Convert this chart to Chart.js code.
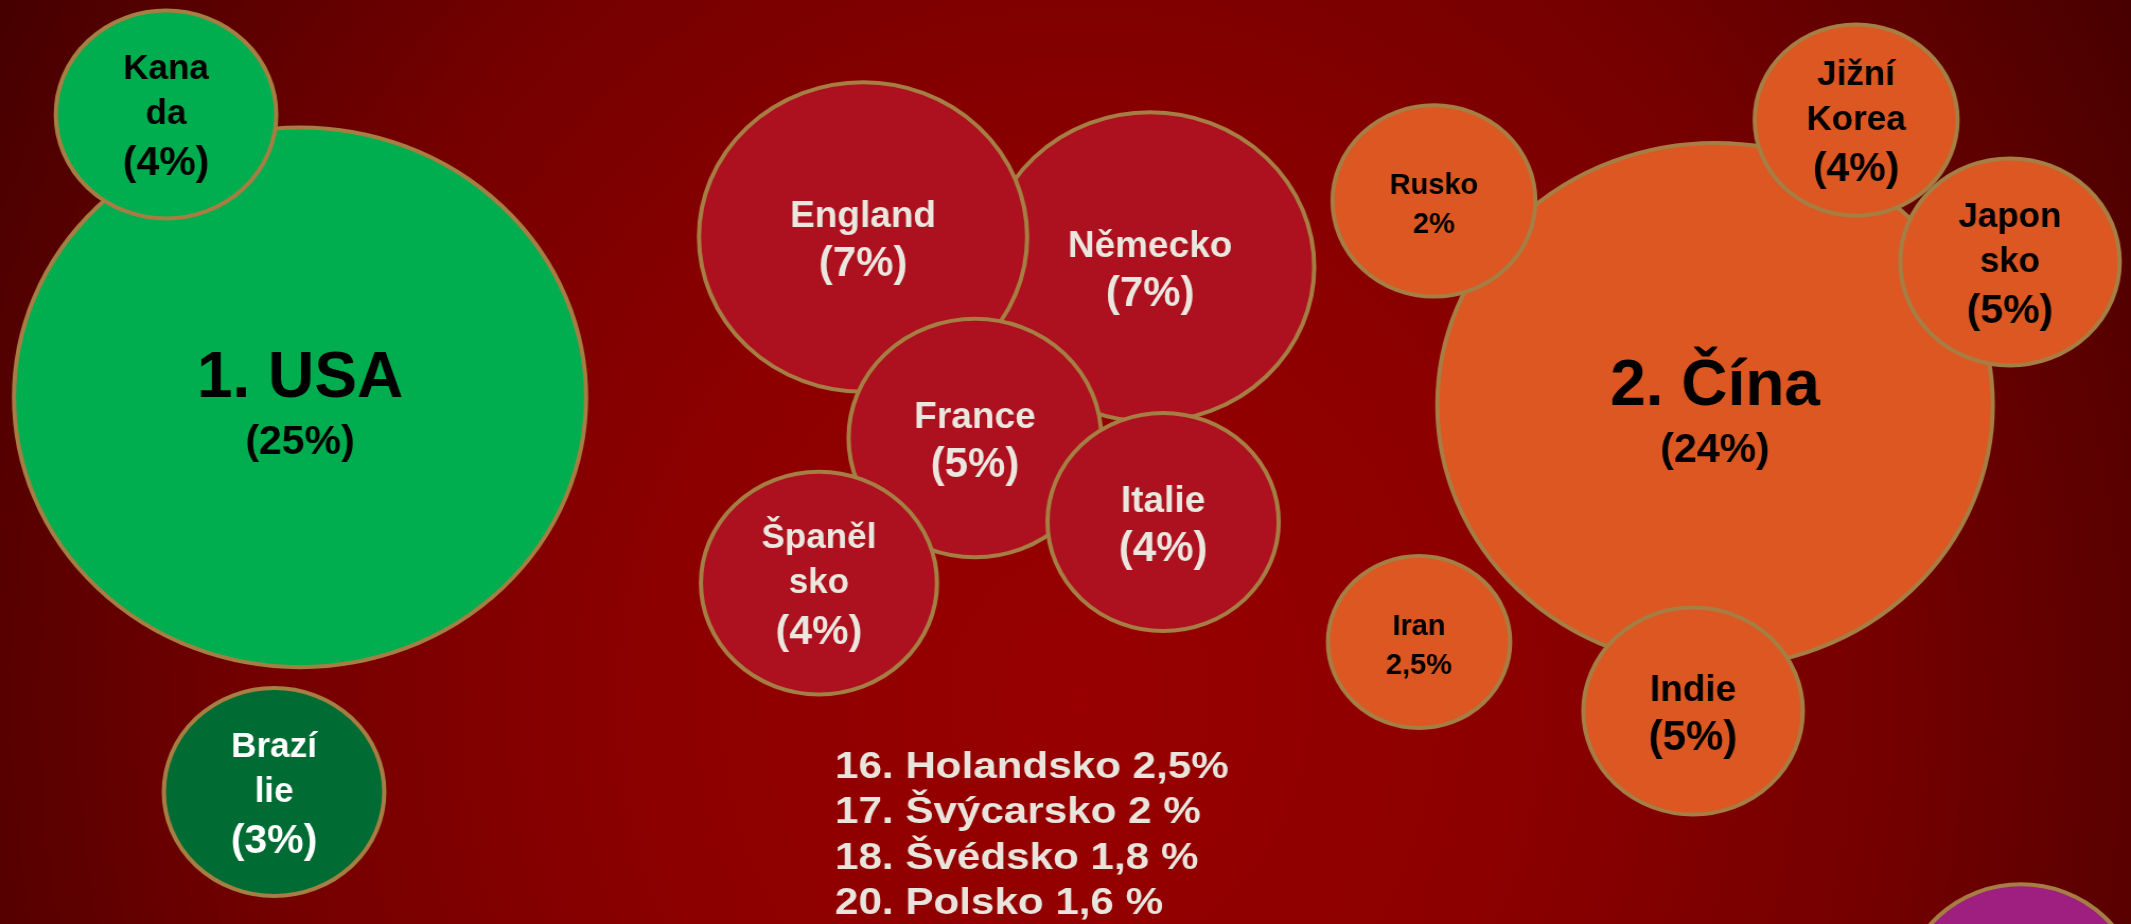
<!DOCTYPE html>
<html lang="cs">
<head>
<meta charset="utf-8">
<title>Podíl zemí</title>
<script src="https://cdn.jsdelivr.net/npm/chart.js"></script>
<style>
  html, body { margin: 0; padding: 0; }
  body {
    width: 2131px;
    height: 924px;
    overflow: hidden;
    background: radial-gradient(ellipse 1250px 1400px at 1080px 700px, #980000 0%, #8c0000 35%, #740000 65%, #450000 100%);
  }
  canvas { display: block; }
</style>
</head>
<body>
<canvas id="chart" width="2010" height="924" style="width:2131px;height:924px"></canvas>
<script>
// the slide is a little stretched sideways, so the circles come out as ellipses
const STRETCH = 2131 / 2010;

// bubbles, in drawing order (later ones sit on top)
const countries = ['1. USA', 'Kana\nda', 'Brazí\nlie', 'Německo', 'England', 'France', 'Italie', 'Španěl\nsko',
                   '2. Čína', 'Rusko', 'Jižní\nKorea', 'Japon\nsko', 'Iran', 'Indie', ''];
const shares = [25, 4, 3, 7, 7, 5, 4, 4, 24, 2, 4, 5, 2.5, 5, null];
const shareLabels = ['(25%)', '(4%)', '(3%)', '(7%)', '(7%)', '(5%)', '(4%)', '(4%)',
                     '(24%)', '2%', '(4%)', '(5%)', '2,5%', '(5%)', ''];
const regions = ['am', 'am', 'br', 'eu', 'eu', 'eu', 'eu', 'eu', 'as', 'as', 'as', 'as', 'as', 'as', 'other'];

// centre and radius of each bubble, in % of slide width (x) and height (y, r)
const posX = [14.08, 7.79, 12.86, 53.97, 40.50, 45.75, 54.58, 38.43, 80.48, 67.29, 87.10, 94.32, 66.59, 79.45, 94.84];
const posY = [43.0, 12.39, 85.71, 28.9, 25.65, 47.40, 56.49, 63.10, 43.83, 21.75, 12.99, 28.35, 69.48, 76.95, 107.7];
const bubbleR = [29.2, 11.25, 11.25, 16.75, 16.75, 12.9, 11.8, 12.05, 28.35, 10.35, 10.35, 11.2, 9.3, 11.2, 12.0];

// the short list under the bubbles
const listRanks = ['16.', '17.', '18.', '20.'];
const listNames = ['Holandsko', 'Švýcarsko', 'Švédsko', 'Polsko'];
const listShares = ['2,5%', '2 %', '1,8 %', '1,6 %'];

const fillColor = { am: '#00ae50', br: '#006b33', eu: '#ad101e', as: '#dd5722', other: '#9e1f7f' };
const textColor = { am: '#000000', br: '#ffffff', eu: '#ebe7df', as: '#000000', other: '#ffffff' };
const FONT = '"Liberation Sans", Arial, sans-serif';

const bubbleLabels = {
  id: 'bubbleLabels',
  afterDatasetsDraw(chart) {
    const ctx = chart.ctx;
    const meta = chart.getDatasetMeta(0);
    meta.data.forEach((pt, i) => {
      if (!countries[i]) return;
      const lines = countries[i].split('\n');
      const pct = shareLabels[i];
      let rows;
      if (/^\d\./.test(countries[i])) {
        rows = [[lines[0], 64, 0], [pct, 41, 57]];
      } else if (pct.indexOf('(') < 0) {
        rows = [[lines[0], 29, -7], [pct, 29, 32]];
      } else if (lines.length === 2) {
        rows = [[lines[0], 35, -35], [lines[1], 35, 10], [pct, 41, 61]];
      } else {
        rows = [[lines[0], 37, -10], [pct, 42, 39]];
      }
      ctx.save();
      ctx.translate(pt.x, pt.y);
      ctx.scale(1 / STRETCH, 1);
      ctx.fillStyle = textColor[regions[i]];
      ctx.textAlign = 'center';
      ctx.textBaseline = 'alphabetic';
      rows.forEach(([t, size, dy]) => {
        ctx.font = `bold ${size}px ${FONT}`;
        ctx.fillText(t, 0, dy);
      });
      ctx.restore();
    });

    // list text
    const xs = chart.scales.x, ys = chart.scales.y;
    ctx.save();
    ctx.fillStyle = '#e9e5dd';
    ctx.font = `bold 37px ${FONT}`;
    ctx.textAlign = 'left';
    listNames.forEach((name, i) => {
      const x = xs.getPixelForValue(39.18);
      const y = ys.getPixelForValue(84.2 + i * 4.9);
      ctx.save();
      ctx.translate(x, y);
      ctx.scale(1.14 / STRETCH, 1);
      ctx.fillText(`${listRanks[i]} ${name} ${listShares[i]}`, 0, 0);
      ctx.restore();
    });
    ctx.restore();
  }
};

const chart = new Chart(document.getElementById('chart'), {
  type: 'bubble',
  data: {
    datasets: [{
      label: 'Podíl',
      data: posX.map((x, i) => ({ x: x, y: posY[i], r: 0, share: shares[i] })),
      backgroundColor: regions.map(r => fillColor[r]),
      borderColor: '#a67e43',
      borderWidth: 4,
      clip: false
    }]
  },
  options: {
    responsive: false,
    devicePixelRatio: 1,
    animation: false,
    events: [],
    layout: { autoPadding: false, padding: 0 },
    scales: {
      x: { type: 'linear', min: 0, max: 100, display: false },
      y: { type: 'linear', min: 0, max: 100, reverse: true, display: false }
    },
    plugins: {
      legend: { display: false },
      tooltip: { enabled: false }
    }
  },
  plugins: [bubbleLabels]
});

// bubble sizes are in y-axis units, turn them into pixels through the scale
const yScale = chart.scales.y;
chart.data.datasets[0].data.forEach((d, i) => {
  d.r = Math.abs(yScale.getPixelForValue(bubbleR[i]) - yScale.getPixelForValue(0));
});
chart.update();
</script>
</body>
</html>
